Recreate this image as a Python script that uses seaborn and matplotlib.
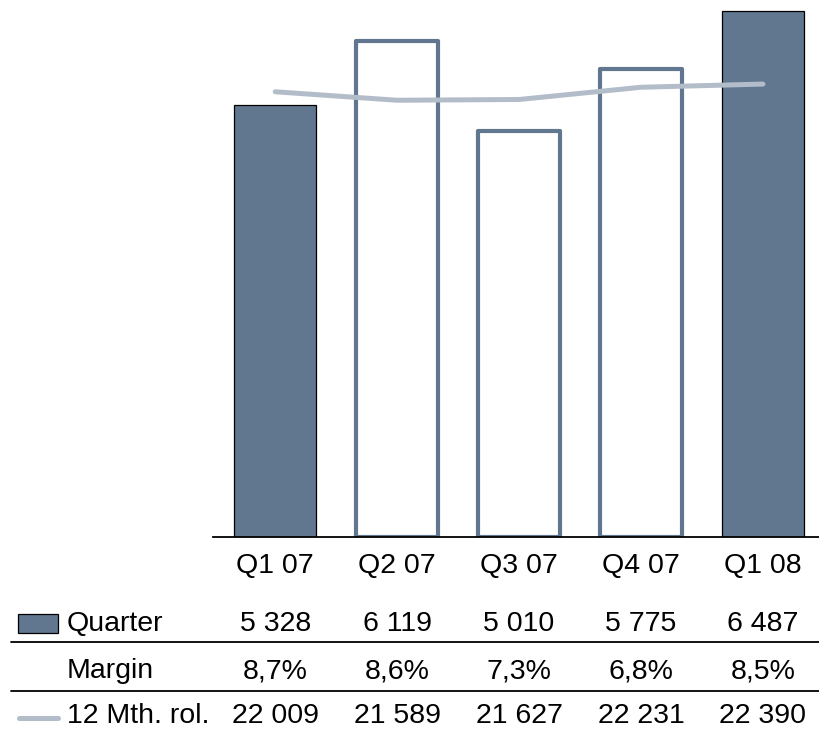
import numpy as np
import pandas as pd
import matplotlib
matplotlib.use("Agg")
import matplotlib.pyplot as plt
import matplotlib.transforms as mtransforms
from matplotlib.patches import Rectangle
from matplotlib.lines import Line2D
import seaborn as sns

# Quarterly figures
quarters = ["Q1 07", "Q2 07", "Q3 07", "Q4 07", "Q1 08"]
quarter_values = [5328, 6119, 5010, 5775, 6487]
margin_labels = ["8,7%", "8,6%", "7,3%", "6,8%", "8,5%"]
rolling_12m = [22009, 21589, 21627, 22231, 22390]
filled = [True, False, False, False, True]

BAR_COLOR = "#61778f"
LINE_COLOR = "#b3bdc9"

sns.set_theme(style="white")
plt.rcParams["font.family"] = ["Liberation Sans", "DejaVu Sans"]

W, H, DPI = 819, 732, 100
fig = plt.figure(figsize=(W / DPI, H / DPI), dpi=DPI)

def fx(px):
    return px / W

def fy(py):
    return 1 - py / H

ax = fig.add_axes([fx(213), fy(537), fx(819) - fx(213), fy(0) - fy(537)])

df = pd.DataFrame({"quarter": quarters, "value": quarter_values})
sns.barplot(data=df, x="quarter", y="value", color=BAR_COLOR, width=0.67,
            saturation=1, ax=ax)

for patch, full in zip(ax.patches, filled):
    if full:
        patch.set_facecolor(BAR_COLOR)
        patch.set_edgecolor("black")
        patch.set_linewidth(0.9)
    else:
        patch.set_facecolor("white")
        patch.set_edgecolor(BAR_COLOR)
        patch.set_linewidth(3.0)
        patch.set_joinstyle("round")

ax.set_xlim(-0.51, 4.46)
ax.set_ylim(0, 6620)
ax.set_xlabel("")
ax.set_ylabel("")
ax.set_xticks([])
ax.set_yticks([])
for side in ["top", "right", "left"]:
    ax.spines[side].set_visible(False)
ax.spines["bottom"].set_color("black")
ax.spines["bottom"].set_linewidth(1.3)

# Rolling 12-month total on a secondary scale
ax2 = ax.twinx()
roll_df = pd.DataFrame({"pos": np.arange(len(quarters)), "roll": rolling_12m})
sns.lineplot(data=roll_df, x="pos", y="roll", color=LINE_COLOR, linewidth=3.6,
             ax=ax2, solid_capstyle="round")
ax2.set_ylim(0, 26545)
ax2.set_xlim(-0.51, 4.46)
ax2.set_yticks([])
ax2.set_ylabel("")
ax2.set_xlabel("")
for side in ["top", "right", "left", "bottom"]:
    ax2.spines[side].set_visible(False)

# Data table under the chart
trans = mtransforms.blended_transform_factory(ax.transData, fig.transFigure)
FS = 20.5
rows = [
    (566, quarters),
    (624, [f"{v:,}".replace(",", " ") for v in quarter_values]),
    (671, margin_labels),
    (716, [f"{v:,}".replace(",", " ") for v in rolling_12m]),
]
for ypx, labels in rows:
    for i, lab in enumerate(labels):
        fig.text(i, fy(ypx), lab, transform=trans, ha="center", va="center",
                 fontsize=FS, color="black")

row_names = [(624, "Quarter"), (671, "Margin"), (716, "12 Mth. rol.")]
for ypx, name in row_names:
    fig.text(fx(67), fy(ypx), name, ha="left", va="center", fontsize=FS,
             color="black")

# Legend keys
fig.add_artist(Rectangle((fx(18), fy(633)), fx(58) - fx(18), fy(614) - fy(633),
                         transform=fig.transFigure, facecolor=BAR_COLOR,
                         edgecolor="black", linewidth=0.9))
fig.add_artist(Line2D([fx(19), fx(58)], [fy(718), fy(718)],
                      transform=fig.transFigure, color=LINE_COLOR,
                      linewidth=3.6, solid_capstyle="round"))

# Row separators
for ypx in (642, 691):
    fig.add_artist(Line2D([fx(11), 1.0], [fy(ypx), fy(ypx)],
                          transform=fig.transFigure, color="black",
                          linewidth=1.3))

fig.savefig("out.png", dpi=DPI)
